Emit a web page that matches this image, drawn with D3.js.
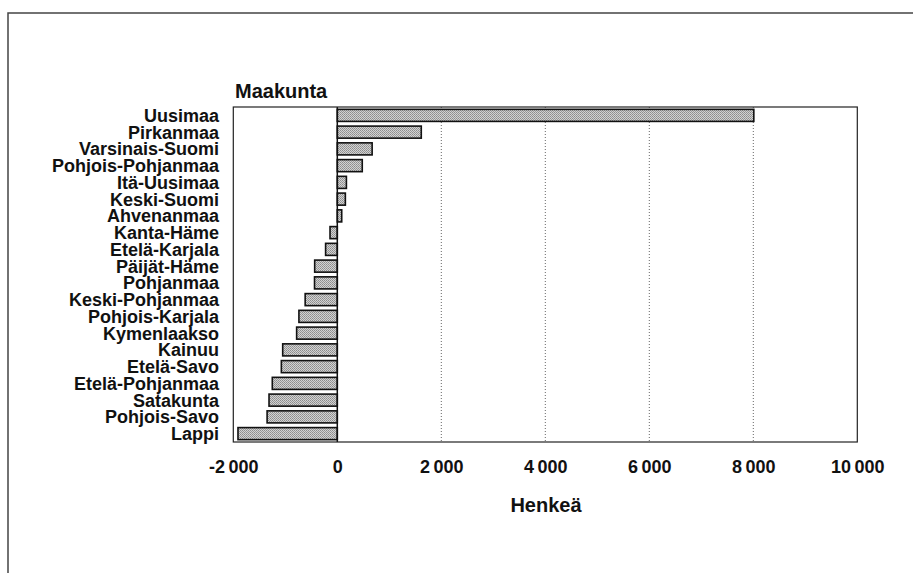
<!DOCTYPE html>
<html>
<head>
<meta charset="utf-8">
<script src="https://cdn.jsdelivr.net/npm/d3@7"></script>
<style>
  html, body { margin: 0; padding: 0; background: #fff; }
  svg { display: block; }
  text { font-family: "Liberation Sans", Arial, sans-serif; font-weight: bold; fill: #111; }
</style>
</head>
<body>
<svg id="chart" width="913" height="573"></svg>
<script>
const categories = ["Uusimaa","Pirkanmaa","Varsinais-Suomi","Pohjois-Pohjanmaa","Itä-Uusimaa","Keski-Suomi","Ahvenanmaa","Kanta-Häme","Etelä-Karjala","Päijät-Häme","Pohjanmaa","Keski-Pohjanmaa","Pohjois-Karjala","Kymenlaakso","Kainuu","Etelä-Savo","Etelä-Pohjanmaa","Satakunta","Pohjois-Savo","Lappi"];
const values = [8010, 1615, 670, 480, 175, 155, 85, -140, -225, -435, -438, -618, -738, -782, -1050, -1076, -1250, -1313, -1350, -1910];
const xTicks = [-2000, 0, 2000, 4000, 6000, 8000, 10000];
const gridTicks = [2000, 4000, 6000, 8000];
const xDomain = [-2000, 10000];
const yTitle = "Maakunta";
const xTitle = "Henkeä";

const svg = d3.select("#chart");
const pLeft = 233.3, pRight = 857.3, pTop = 107, pBottom = 442;

const x = d3.scaleLinear().domain(xDomain).range([pLeft, pRight]);
const y = d3.scaleBand().domain(categories).range([pTop, pBottom]).paddingInner(0.28).paddingOuter(0.14);

const locale = d3.formatLocale({decimal: ",", thousands: "\u2009", grouping: [3], currency: ["", ""], minus: "-"});
const fmt = locale.format(",");

// stipple pattern for bars
const defs = svg.append("defs");
const pat = defs.append("pattern").attr("id", "dither").attr("patternUnits", "userSpaceOnUse")
  .attr("width", 2).attr("height", 2);
pat.append("rect").attr("width", 2).attr("height", 2).attr("fill", "#d2d2d2");
pat.append("rect").attr("x", 0).attr("y", 0).attr("width", 1).attr("height", 1).attr("fill", "#8c8c8c");
pat.append("rect").attr("x", 1).attr("y", 1).attr("width", 1).attr("height", 1).attr("fill", "#9a9a9a");

// outer frame (top and left)
svg.append("path").attr("d", "M8,573 L8,13 L913,13").attr("fill", "none")
  .attr("stroke", "#444").attr("stroke-width", 1.5);

// grid lines
svg.append("g").selectAll("line").data(gridTicks).join("line")
  .attr("x1", d => x(d)).attr("x2", d => x(d))
  .attr("y1", pTop).attr("y2", pBottom)
  .attr("stroke", "#666").attr("stroke-width", 1).attr("stroke-dasharray", "1,2");

// bars
svg.append("g").selectAll("rect").data(values).join("rect")
  .attr("x", d => x(Math.min(0, d)))
  .attr("width", d => Math.abs(x(d) - x(0)))
  .attr("y", (d, i) => y(categories[i]))
  .attr("height", y.bandwidth())
  .attr("fill", "url(#dither)")
  .attr("stroke", "#111").attr("stroke-width", 1.6);

// zero line
svg.append("line").attr("x1", x(0)).attr("x2", x(0)).attr("y1", pTop).attr("y2", pBottom)
  .attr("stroke", "#111").attr("stroke-width", 1.5);

// plot border
svg.append("rect").attr("x", pLeft).attr("y", pTop).attr("width", pRight - pLeft).attr("height", pBottom - pTop)
  .attr("fill", "none").attr("stroke", "#222").attr("stroke-width", 1.2);

// category labels
const yAxis = d3.axisLeft(y).tickSize(0).tickPadding(0);
const gy = svg.append("g").attr("transform", `translate(219,0)`).call(yAxis);
gy.select(".domain").remove();
gy.selectAll(".tick text")
  .attr("x", 0).attr("dy", null).attr("y", 6.5)
  .style("font-size", "18px")
  .style("font-family", "'Liberation Sans', Arial, sans-serif")
  .style("font-weight", "bold")
  .attr("fill", "#111");

// x axis tick labels
const xAxis = d3.axisBottom(x).tickValues(xTicks).tickFormat(fmt).tickSize(0).tickPadding(0);
const gx = svg.append("g").attr("transform", `translate(0,${pBottom})`).call(xAxis);
gx.select(".domain").remove();
gx.selectAll(".tick text")
  .attr("y", 31).attr("dy", null)
  .style("font-size", "18px")
  .style("font-family", "'Liberation Sans', Arial, sans-serif")
  .style("font-weight", "bold")
  .attr("fill", "#111");

// titles
svg.append("text").attr("x", 235).attr("y", 98).attr("font-size", 20).text(yTitle);
svg.append("text").attr("x", 546).attr("y", 512).attr("text-anchor", "middle").attr("font-size", 20).text(xTitle);
</script>
</body>
</html>
